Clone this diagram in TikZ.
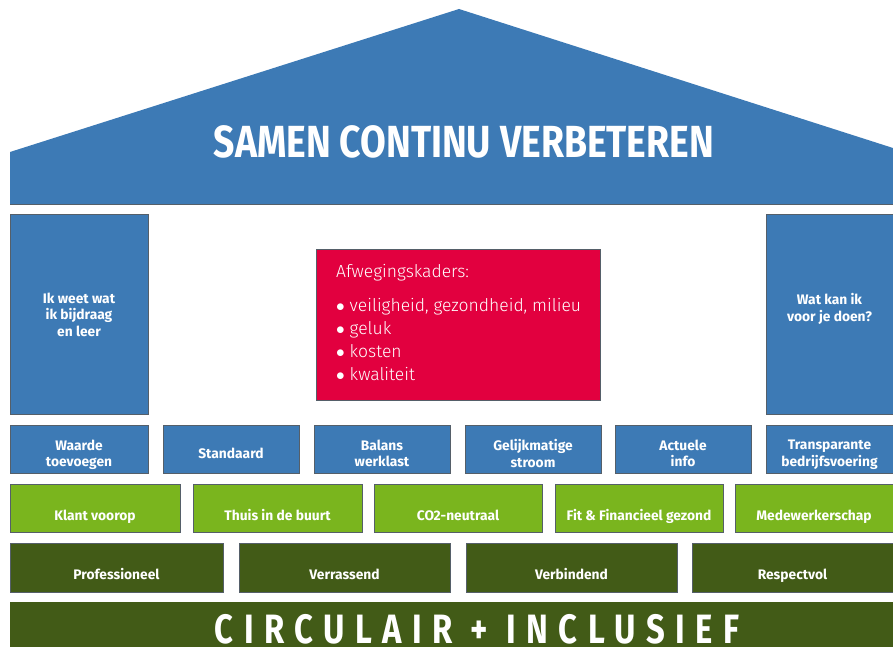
\documentclass[tikz,border=0pt]{standalone}
\usepackage{fontspec}
\setmainfont{Fira Sans}
\newfontfamily\titelfont[FakeStretch=0.83]{Fira Sans}
\newfontfamily\bandfont[FakeStretch=0.8,LetterSpace=25.5]{Fira Sans}
\newfontfamily\lichtfont{Fira Sans Light}

\definecolor{blauwA}{RGB}{61,122,181}
\definecolor{roodA}{RGB}{226,0,63}
\definecolor{groenL}{RGB}{122,181,30}
\definecolor{groenD}{RGB}{66,91,23}
\definecolor{randgrijs}{RGB}{85,95,105}

\begin{document}
\begin{tikzpicture}[x=1pt, y=-1pt,
    blok/.style={draw=randgrijs, line width=0.8pt, rectangle, inner sep=0pt},
    tekst/.style={text=white, align=center, inner sep=0pt, execute at end node=\strut,
                  font=\bfseries\fontsize{13.8}{16.5}\selectfont},
    blauw/.style={blok, fill=blauwA, minimum width=136pt, minimum height=48pt},
    groen/.style={blok, fill=groenL, minimum height=48pt},
    donker/.style={blok, fill=groenD, minimum height=49pt},
    pilaar/.style={blok, fill=blauwA, minimum height=200pt}]

    \useasboundingbox (0,0) rectangle (893,647);

    % dak
    \fill [blauwA] (10,204) -- (10,152) -- (459,9) -- (893,148) -- (893,204) -- cycle;
    \draw [randgrijs, line width=0.8pt] (10,204) -- (893,204);
    \node (titel) [text=white, anchor=base, font=\titelfont\bfseries\fontsize{45}{45}\selectfont] at (464,158) {SAMEN CONTINU VERBETEREN};

    % pilaren
    \node (links)  [pilaar, minimum width=138pt, label={[tekst, yshift=-3pt]center:{Ik weet wat\\ik bijdraag\\en leer}}] at (79,314) {};
    \node (rechts) [pilaar, minimum width=127pt, label={[tekst, yshift=4pt]center:{Wat kan ik\\voor je doen?}}] at (829.5,314) {};

    \node (kader) [blok, fill=roodA, minimum width=284pt, minimum height=151pt] at (458,324.5) {};
    \node (kadertekst) [text=white, align=left, anchor=north west, inner sep=0pt,
        font=\lichtfont\fontsize{17.5}{23}\selectfont] at (336,264)
        {Afwegingskaders:\\[11pt]
         $\bullet$ veiligheid, gezondheid, milieu\\
         $\bullet$ geluk\\
         $\bullet$ kosten\\
         $\bullet$ kwaliteit};

    % blauwe rij
    \node (waarde)   [blauw, minimum width=138pt, label={[tekst, yshift=-6.7pt]center:{Waarde\\toevoegen}}] at (79,449) {};
    \node (standaard)[blauw, label={[tekst, yshift=-5.7pt]center:Standaard}] at (231,449) {};
    \node (balans)   [blauw, label={[tekst, yshift=-6.7pt]center:{Balans\\werklast}}] at (382,449) {};
    \node (gelijk)   [blauw, label={[tekst, yshift=-6.7pt]center:{Gelijkmatige\\stroom}}] at (533,449) {};
    \node (actueel)  [blauw, label={[tekst, yshift=-6.7pt]center:{Actuele\\info}}] at (683,449) {};
    \node (transp)   [blauw, minimum width=127pt, label={[tekst, yshift=-6.7pt]center:{Transparante\\bedrijfsvoering}}] at (829.5,449) {};

    % groene rij
    \node (klant)  [groen, minimum width=170pt, label={[tekst, yshift=-8.7pt]center:Klant voorop}] at (95,508) {};
    \node (thuis)  [groen, minimum width=169pt, label={[tekst, yshift=-8.7pt]center:Thuis in de buurt}] at (277.5,508) {};
    \node (co)     [groen, minimum width=168pt, label={[tekst, yshift=-8.7pt]center:CO2-neutraal}] at (458,508) {};
    \node (fit)    [groen, minimum width=168pt, label={[tekst, yshift=-8.7pt]center:Fit \& Financieel gezond}] at (639,508) {};
    \node (mede)   [groen, minimum width=158pt, label={[tekst, yshift=-8.7pt]center:Medewerkerschap}] at (814,508) {};

    % donkergroene rij
    \node (prof)   [donker, minimum width=213pt, label={[tekst, yshift=-8.2pt]center:Professioneel}] at (116.5,567.5) {};
    \node (verras) [donker, minimum width=211pt, label={[tekst, yshift=-8.2pt]center:Verrassend}] at (344.5,567.5) {};
    \node (verbind)[donker, minimum width=211pt, label={[tekst, yshift=-8.2pt]center:Verbindend}] at (571.5,567.5) {};
    \node (respect)[donker, minimum width=201pt, label={[tekst, yshift=-8.2pt]center:Respectvol}] at (792.5,567.5) {};

    % fundament
    \fill [groenD] (10,602) rectangle (893,647);
    \node (fundament) [text=white, anchor=base, inner sep=0pt, font=\bandfont\bfseries\fontsize{41}{41}\selectfont] at (477,643) {CIRCULAIR + INCLUSIEF};

\end{tikzpicture}
\end{document}
